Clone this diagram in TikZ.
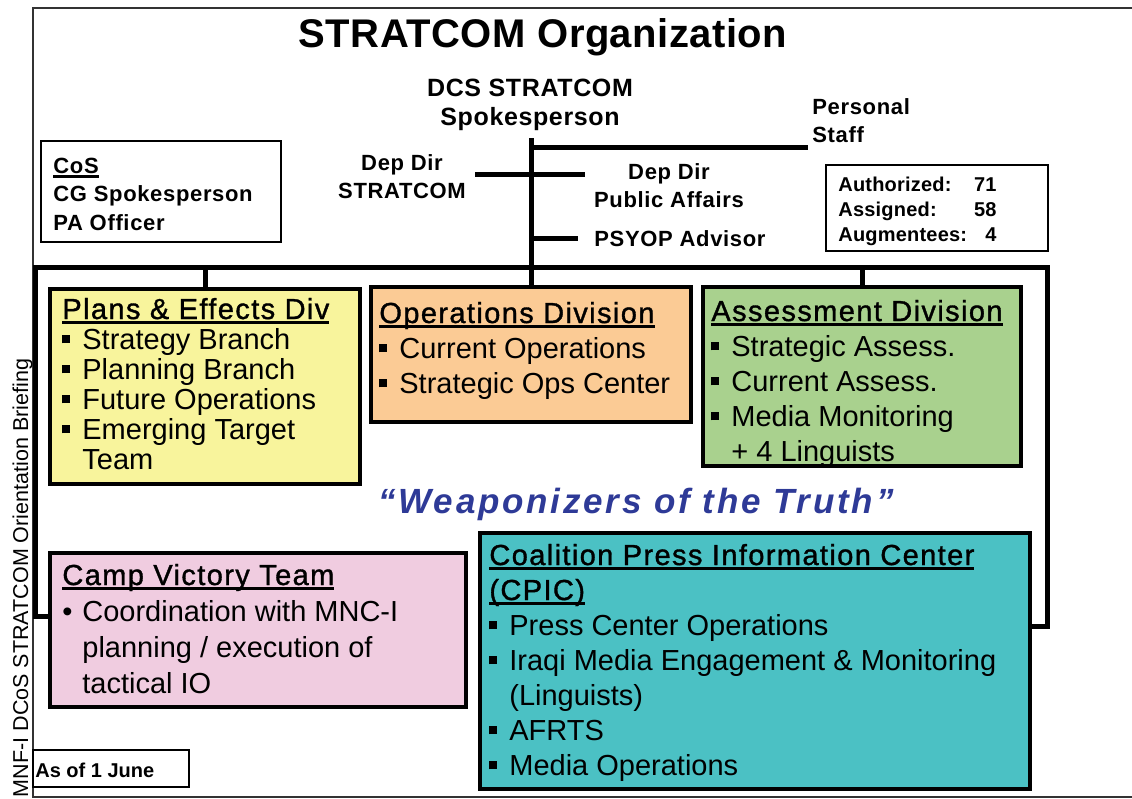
\documentclass[tikz,border=0pt]{standalone}
\usepackage{fontspec}
\setmainfont{Liberation Sans}
\usetikzlibrary{positioning}

\definecolor{planscol}{HTML}{F8F49C}
\definecolor{opscol}{HTML}{FBCB95}
\definecolor{assesscol}{HTML}{A9D18E}
\definecolor{campcol}{HTML}{F0CCE0}
\definecolor{cpiccol}{HTML}{4BC1C4}
\definecolor{quoteblue}{HTML}{2E3A97}

\newcommand{\lblfont}{\fontsize{11}{14.25}\selectfont\bfseries\addfontfeatures{LetterSpace=3}}
\newcommand{\hdfont}{\addfontfeatures{LetterSpace=4.8,FakeBold=1.2}}
\newcommand{\bsq}{\rule[2.8pt]{4pt}{4pt}\hspace{6pt}}
\newcommand{\contind}{\hspace*{10pt}}
\newcommand{\headu}[1]{\setbox0\hbox{#1}\rlap{\rule[-2.5pt]{\wd0}{1.5pt}}\box0}

\tikzset{
  wire/.style={line width=2.5pt},
  pageframe/.style={line width=1pt, black!80},
  divbox/.style={draw, line width=2.2pt, anchor=north west, inner sep=0pt, outer sep=0pt},
  thinbox/.style={draw, line width=0.8pt, anchor=north west, inner sep=0pt, outer sep=0pt},
  lbl/.style={inner sep=0pt, font=\lblfont},
  itemtxt/.style={anchor=base west, inner sep=0pt, font=\fontsize{14.5}{17.5}\selectfont},
}

\begin{document}
\begin{tikzpicture}[x=0.5pt,y=-0.5pt]
\useasboundingbox (0,0) rectangle (1132,799);
\draw[pageframe] (1132,8) -- (33,8) -- (33,797) -- (1132,797);

\node[inner sep=0pt, anchor=base, font=\fontsize{20}{24}\selectfont\bfseries\addfontfeatures{LetterSpace=1.2}] (title) at (543,47) {STRATCOM Organization};

\node[lbl, anchor=base, font=\fontsize{12.5}{14.5}\selectfont\bfseries\addfontfeatures{LetterSpace=2.5}] (dcs) at (530,96) {\begin{tabular}[t]{@{}c@{}}DCS STRATCOM\\Spokesperson\end{tabular}};
\node[lbl, anchor=base] (ddstrat) at (402,170) {\begin{tabular}[t]{@{}c@{}}Dep Dir\\STRATCOM\end{tabular}};
\node[lbl, anchor=base] (ddpa) at (669,179) {\begin{tabular}[t]{@{}c@{}}Dep Dir\\Public Affairs\end{tabular}};
\node[lbl, anchor=base west] (staff) at (812,114) {\begin{tabular}[t]{@{}l@{}}Personal\\Staff\end{tabular}};
\node[lbl, anchor=base west] (psyop) at (594,246) {PSYOP Advisor};

\node[thinbox, minimum width=120pt, minimum height=50.5pt] (cos) at (41,141) {};
\node[lbl, anchor=base west] (costxt) at (53,173) {\begin{tabular}[t]{@{}l@{}}\headu{CoS}\\CG Spokesperson\\PA Officer\end{tabular}};

\node[thinbox, minimum width=111pt, minimum height=43pt] (stats) at (826,165) {};
\node[lbl, anchor=base west, font=\fontsize{10}{12.5}\selectfont\bfseries\addfontfeatures{LetterSpace=1}] (statnames) at (838,191) {\begin{tabular}[t]{@{}l@{}}Authorized:\\Assigned:\\Augmentees:\end{tabular}};
\node[lbl, anchor=base east, font=\fontsize{10}{12.5}\selectfont\bfseries\addfontfeatures{LetterSpace=1}] (statnums) at (997,191) {\begin{tabular}[t]{@{}r@{}}71\\58\\4\end{tabular}};

\node[divbox, fill=planscol, minimum width=155pt, minimum height=97.5pt] (plans) at (50,289) {};
\node[divbox, fill=opscol, minimum width=160pt, minimum height=67.5pt] (ops) at (371,287) {};
\node[divbox, fill=assesscol, minimum width=159pt, minimum height=89.5pt] (assess) at (703,287) {};
\node[divbox, fill=campcol, minimum width=208pt, minimum height=77pt] (camp) at (50,553) {};
\node[divbox, fill=cpiccol, minimum width=275pt, minimum height=128pt] (cpic) at (480,533) {};
\node[thinbox, minimum width=78pt, minimum height=18.5pt] (asof) at (33,750) {};

\coordinate (spine) at (531,138);
\coordinate (staffend) at (808,147);
\coordinate (ddleft) at (475,174);
\coordinate (ddright) at (585,174);
\coordinate (busL) at (35,267);
\coordinate (busR) at (1047,267);
\coordinate (ldrop) at (35,616);
\coordinate (rdrop) at (1047,626);

\draw[wire] (spine) -- (ops.north);
\draw[wire] (spine |- staffend) -- (staffend);
\draw[wire] (ddleft) -- (ddright);
\draw[wire] (spine |- psyop.west) -- ([xshift=-8pt]psyop.west);
\draw[wire] (ldrop -| camp.west) -- (ldrop) -- (busL) -- (busR) -- (rdrop) -- (rdrop -| cpic.east);
\draw[wire] (plans.north) -- (plans.north |- busL);
\draw[wire] (assess.north) -- (assess.north |- busL);

\node[itemtxt, font=\fontsize{14.5}{15}\selectfont] (planstxt) at (62,319) {\begin{tabular}[t]{@{}l@{}}
\headu{\hdfont Plans \& Effects Div}\\
\bsq Strategy Branch\\
\bsq Planning Branch\\
\bsq Future Operations\\
\bsq Emerging Target\\
\contind Team
\end{tabular}};

\node[itemtxt] (opstxt) at (379,323) {\begin{tabular}[t]{@{}l@{}}
\headu{\hdfont Operations Division}\\
\bsq Current Operations\\
\bsq Strategic Ops Center
\end{tabular}};

\node[itemtxt] (assesstxt) at (711,321) {\begin{tabular}[t]{@{}l@{}}
\headu{\hdfont Assessment Division}\\
\bsq Strategic Assess.\\
\bsq Current Assess.\\
\bsq Media Monitoring\\
\contind + 4 Linguists
\end{tabular}};

\node[itemtxt, font=\fontsize{14.5}{18}\selectfont] (camptxt) at (62,585) {\begin{tabular}[t]{@{}l@{}}
\headu{\hdfont Camp Victory Team}\\
\makebox[10pt][l]{\textbullet}Coordination with MNC-I\\
\contind planning / execution of\\
\contind tactical IO
\end{tabular}};

\node[itemtxt] (cpictxt) at (489,565) {\begin{tabular}[t]{@{}l@{}}
\headu{\hdfont Coalition Press Information Center}\\
\headu{\hdfont (CPIC)}\\
\bsq Press Center Operations\\
\bsq Iraqi Media Engagement \& Monitoring\\
\contind (Linguists)\\
\bsq AFRTS\\
\bsq Media Operations
\end{tabular}};

\node[inner sep=0pt, anchor=base, text=quoteblue, font=\fontsize{17.5}{20}\selectfont\bfseries\itshape\addfontfeatures{LetterSpace=8}] (motto) at (636,513) {“Weaponizers of the Truth”};

\node[lbl, anchor=base west, font=\fontsize{10}{12}\selectfont\bfseries] (asoftxt) at (35,777) {As of 1 June};

\node[inner sep=0pt, anchor=base, rotate=90, font=\fontsize{10.75}{12}\selectfont] (side) at (28,578) {MNF-I DCoS STRATCOM Orientation Briefing};
\end{tikzpicture}
\end{document}
